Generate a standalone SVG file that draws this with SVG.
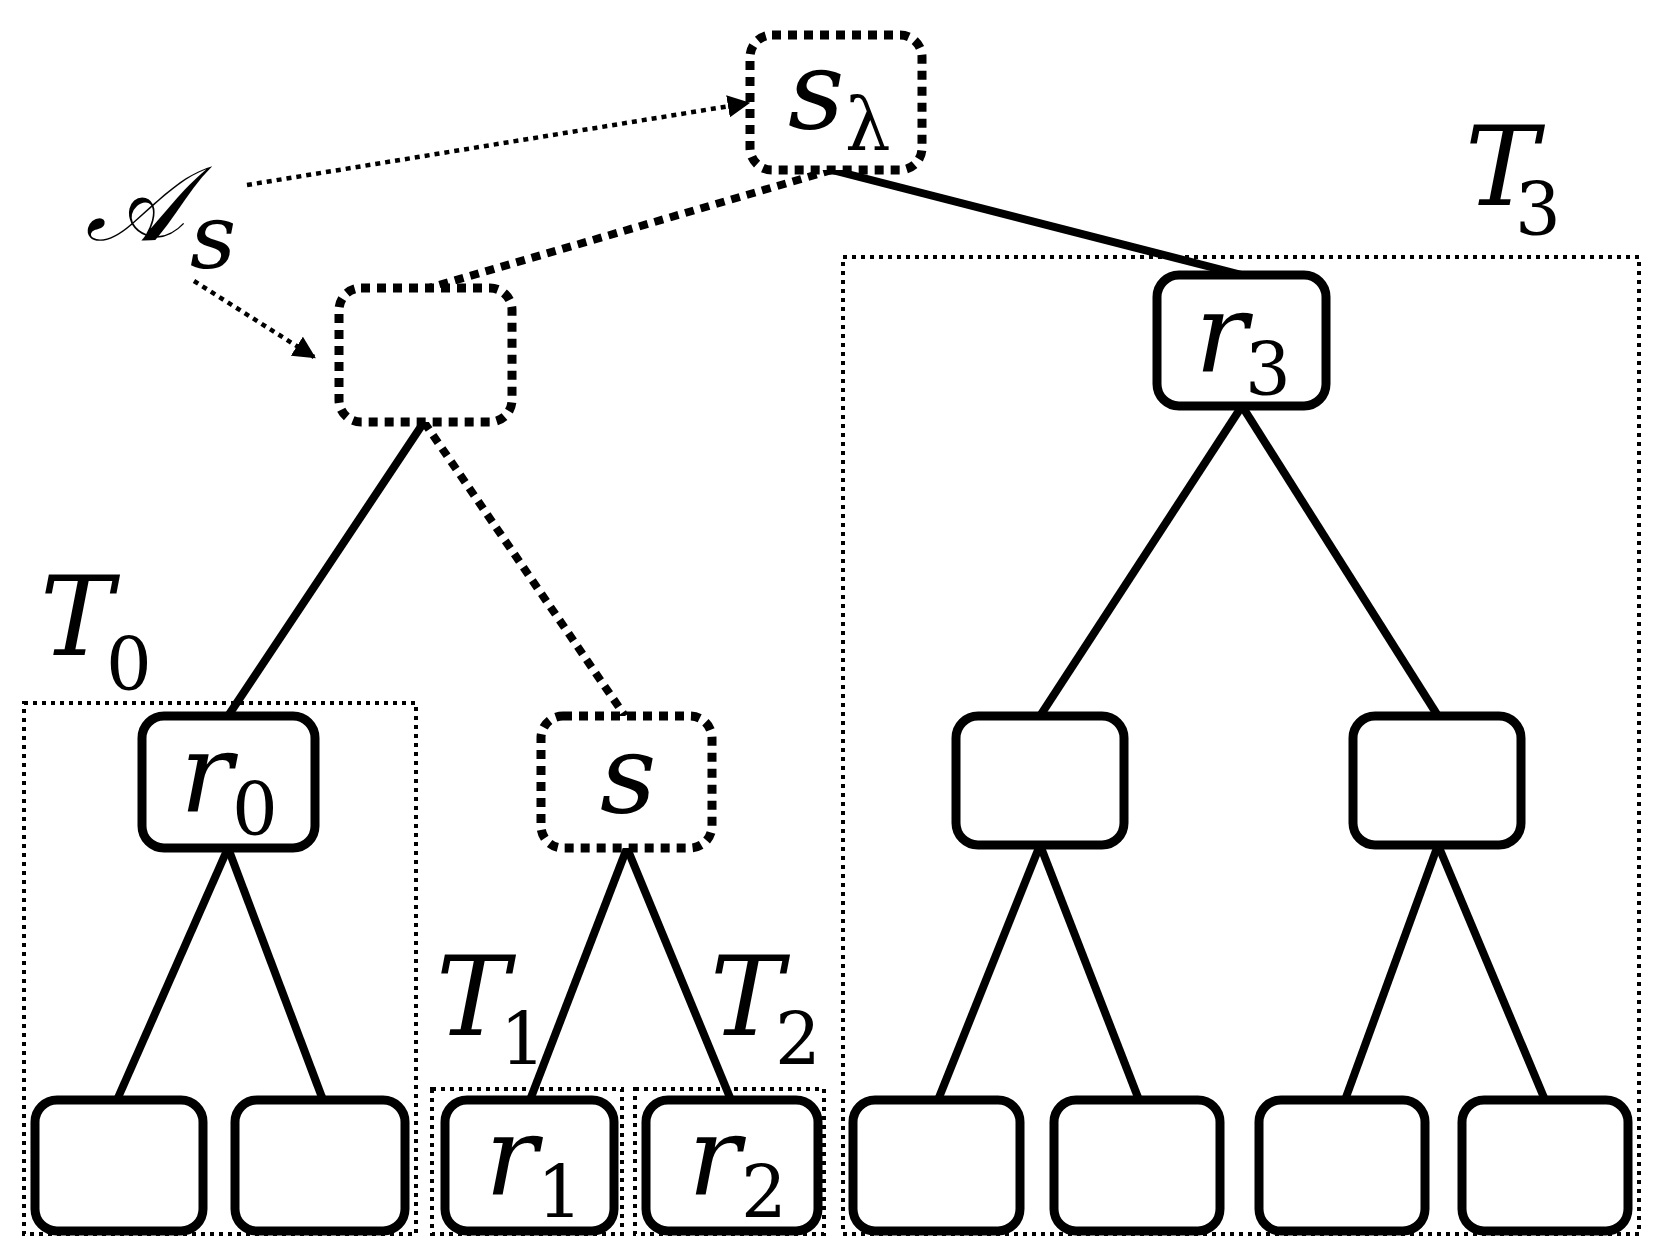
<svg xmlns="http://www.w3.org/2000/svg" width="1661" height="1258" viewBox="0 0 1661 1258">
<style>
.n{fill:#fff;stroke:#000;stroke-width:9}
.d{fill:#fff;stroke:#000;stroke-width:9;stroke-dasharray:9 7}
.f{fill:none;stroke:#000;stroke-width:4;stroke-dasharray:4 5}
.e{stroke:#000;stroke-width:8;fill:none}
.de{stroke:#000;stroke-width:8;fill:none;stroke-dasharray:9 7}
.a{stroke:#000;stroke-width:4.5;fill:none;stroke-dasharray:5 5}
text{font-family:"DejaVu Serif","Liberation Serif",serif;font-style:italic;fill:#000}
.m{font-size:110px}
.s{font-size:72px;font-style:normal}
</style>
<defs><marker id="ar" viewBox="0 0 10 10" refX="9" refY="5" markerWidth="5" markerHeight="5" orient="auto"><path d="M0,0L10,5L0,10z"/></marker></defs>
<g id="frames">
<rect class="f" x="24" y="703" width="392" height="531"/>
<rect class="f" x="432" y="1089" width="190" height="145"/>
<rect class="f" x="635" y="1089" width="189" height="145"/>
<rect class="f" x="843" y="257" width="796" height="977"/>
</g>
<g id="connectors">
<line class="e" x1="832" y1="170" x2="1242" y2="275"/>
<line class="de" x1="832" y1="170" x2="429" y2="288"/>
<line class="e" x1="424" y1="422" x2="228" y2="716"/>
<line class="de" x1="424" y1="422" x2="625" y2="716"/>
<line class="e" x1="228" y1="848" x2="117" y2="1100"/>
<line class="e" x1="228" y1="848" x2="323" y2="1100"/>
<line class="e" x1="627" y1="848" x2="530" y2="1100"/>
<line class="e" x1="627" y1="848" x2="731" y2="1100"/>
<line class="e" x1="1242" y1="406" x2="1040" y2="716"/>
<line class="e" x1="1242" y1="406" x2="1438" y2="716"/>
<line class="e" x1="1040" y1="845" x2="938" y2="1100"/>
<line class="e" x1="1040" y1="845" x2="1139" y2="1100"/>
<line class="e" x1="1438" y1="845" x2="1345" y2="1100"/>
<line class="e" x1="1438" y1="845" x2="1545" y2="1100"/>
<line class="a" x1="247" y1="185" x2="748" y2="103" marker-end="url(#ar)"/>
<line class="a" x1="194" y1="281" x2="314" y2="357" marker-end="url(#ar)"/>
</g>
<g id="slambda"><rect class="d" x="750" y="35" width="172" height="135" rx="22"/><text class="m" x="788" y="128">s</text><text class="s" x="845" y="150">λ</text></g>
<g id="root2"><rect class="d" x="339" y="288" width="173" height="134" rx="22"/></g>
<g id="r3"><rect class="n" x="1157" y="275" width="169" height="131" rx="22"/><text class="m" x="1195" y="372">r</text><text class="s" x="1245" y="395">3</text></g>
<g id="r0"><rect class="n" x="142" y="716" width="173" height="132" rx="22"/><text class="m" x="180" y="812">r</text><text class="s" x="232" y="835">0</text></g>
<g id="s"><rect class="d" x="541" y="716" width="171" height="132" rx="22"/><text class="m" x="600" y="812">s</text></g>
<g id="m1"><rect class="n" x="956" y="716" width="168" height="129" rx="22"/></g>
<g id="m2"><rect class="n" x="1353" y="716" width="168" height="129" rx="22"/></g>
<g id="leaves">
<rect class="n" x="35" y="1100" width="168" height="131" rx="22"/>
<rect class="n" x="235" y="1100" width="170" height="131" rx="22"/>
<rect class="n" x="445" y="1100" width="169" height="131" rx="22"/>
<rect class="n" x="646" y="1100" width="172" height="131" rx="22"/>
<rect class="n" x="853" y="1100" width="167" height="131" rx="22"/>
<rect class="n" x="1054" y="1100" width="166" height="131" rx="22"/>
<rect class="n" x="1259" y="1100" width="166" height="131" rx="22"/>
<rect class="n" x="1462" y="1100" width="166" height="131" rx="22"/>
</g>
<g id="r1"><text class="m" x="485" y="1195">r</text><text class="s" x="537" y="1218">1</text></g>
<g id="r2"><text class="m" x="688" y="1195">r</text><text class="s" x="741" y="1218">2</text></g>
<g id="labels">
<text class="m" x="1465" y="205">T</text><text class="s" x="1515" y="235">3</text>
<text class="m" x="40" y="655">T</text><text class="s" x="106" y="690">0</text>
<text class="m" x="436" y="1035">T</text><text class="s" x="500" y="1065">1</text>
<text class="m" x="710" y="1035">T</text><text class="s" x="775" y="1065">2</text>
<text x="85" y="240" style="font-family:'DejaVu Sans',sans-serif;font-size:105px">𝒜</text><text class="s" x="190" y="268" style="font-style:italic;font-size:90px">s</text>
</g>
</svg>
